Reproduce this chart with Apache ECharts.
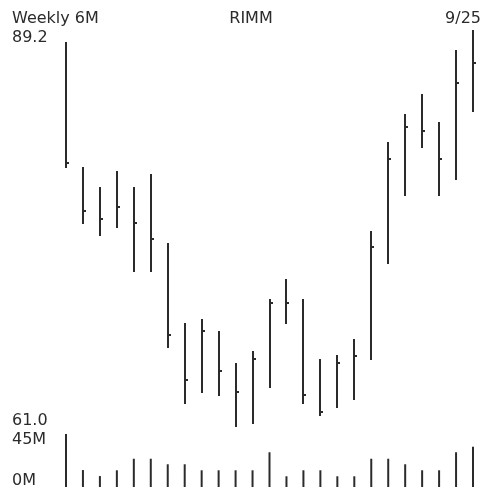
<!DOCTYPE html>
<html>
	<head>
		<meta charset="utf-8" />
		<title>RIMM</title>
		<script src="https://cdn.jsdelivr.net/npm/echarts@6/dist/echarts.min.js"></script>
		<style>
			html, body { margin: 0; padding: 0; background: #fff; }
			#main { width: 487px; height: 487px; }
		</style>
	</head>
	<body>
		<div id="main"></div>
		<script>
			// weekly bars, oldest first
			var weeks = ['4/10','4/17','4/24','5/1','5/8','5/15','5/22','5/29','6/5','6/12','6/19','6/26','7/3',
				'7/10','7/17','7/24','7/31','8/7','8/14','8/21','8/28','9/4','9/11','9/18','9/25'];
			var highs = [88.35,79.47,78.05,79.18,78.05,78.97,74.07,68.39,68.67,67.82,65.55,66.40,70.09,
				71.51,70.09,65.83,66.11,67.25,74.92,81.24,83.23,84.65,82.66,87.78,89.20];
			var lows = [79.40,75.42,74.57,75.14,72.01,72.01,66.61,62.63,63.42,63.20,61.00,61.21,63.77,
				68.32,62.63,61.78,62.35,62.92,65.76,72.58,77.41,80.82,77.41,78.54,83.38];
			var closes = [79.75,76.34,75.77,76.63,75.49,74.35,67.53,64.34,67.82,64.98,63.49,65.83,69.81,
				69.81,63.27,62.07,65.55,66.04,73.79,80.04,82.31,82.03,80.04,85.44,86.86];
			// volume in millions
			var volumes = [45,14.4,9.3,14.2,24,24,19.3,19.3,14.2,14.2,14.2,14.2,29.5,
				9.1,14.2,14.2,9.1,9.1,24,24,19.3,14.2,14.2,29.5,34.2];

			var title = 'RIMM';
			var period = 'Weekly 6M';
			var lastDate = '9/25';
			var priceMax = 89.2, priceMin = 61.0;
			var priceLabels = ['89.2', '61.0'];
			var volMax = 45;
			var volLabels = ['45M', '0M'];

			var ink = '#2b2b2b';
			var font = '16px "DejaVu Sans"';

			var ohlc = [];
			for (var i = 0; i < weeks.length; i++) {
				ohlc.push([i, highs[i], lows[i], closes[i]]);
			}

			function txt(s, x, y, align) {
				return {
					type: 'text',
					style: {
						text: s, x: x, y: y, fill: ink, font: font,
						textAlign: align, align: align,
						textVerticalAlign: 'middle', verticalAlign: 'middle'
					}
				};
			}

			var chart = echarts.init(document.getElementById('main'));
			chart.setOption({
				animation: false,
				backgroundColor: '#fff',
				grid: [
					{ left: 57.5, width: 424, top: 30, height: 397 },
					{ left: 57.5, width: 424, top: 434, height: 53 }
				],
				xAxis: [
					{ type: 'category', data: weeks, gridIndex: 0, show: false },
					{ type: 'category', data: weeks, gridIndex: 1, show: false }
				],
				yAxis: [
					{ type: 'value', gridIndex: 0, min: priceMin, max: priceMax, show: false },
					{ type: 'value', gridIndex: 1, min: 0, max: volMax, show: false }
				],
				graphic: [
					txt(period, 12, 19, 'left'),
					txt(priceLabels[0], 12, 38, 'left'),
					txt(title, 251, 19, 'center'),
					txt(lastDate, 481, 19, 'right'),
					txt(priceLabels[1], 12, 421, 'left'),
					txt(volLabels[0], 12, 440, 'left'),
					txt(volLabels[1], 12, 481, 'left')
				],
				series: [
					{
						// high-low bar with close tick on the right
						type: 'custom',
						xAxisIndex: 0,
						yAxisIndex: 0,
						data: ohlc,
						renderItem: function (params, api) {
							var x = api.value(0);
							var hi = api.coord([x, api.value(1)]);
							var lo = api.coord([x, api.value(2)]);
							var cl = api.coord([x, api.value(3)]);
							var cx = Math.round(hi[0]);
							var cy = Math.round(cl[1]);
							return {
								type: 'group',
								children: [
									{
										type: 'line',
										shape: { x1: cx, y1: hi[1], x2: cx, y2: lo[1] },
										style: { stroke: ink, lineWidth: 2 }
									},
									{
										type: 'line',
										shape: { x1: cx, y1: cy, x2: cx + 3, y2: cy },
										style: { stroke: ink, lineWidth: 2 }
									}
								]
							};
						}
					},
					{
						type: 'bar',
						xAxisIndex: 1,
						yAxisIndex: 1,
						data: volumes,
						barWidth: 2,
						itemStyle: { color: ink }
					}
				]
			});
		</script>
	</body>
</html>
